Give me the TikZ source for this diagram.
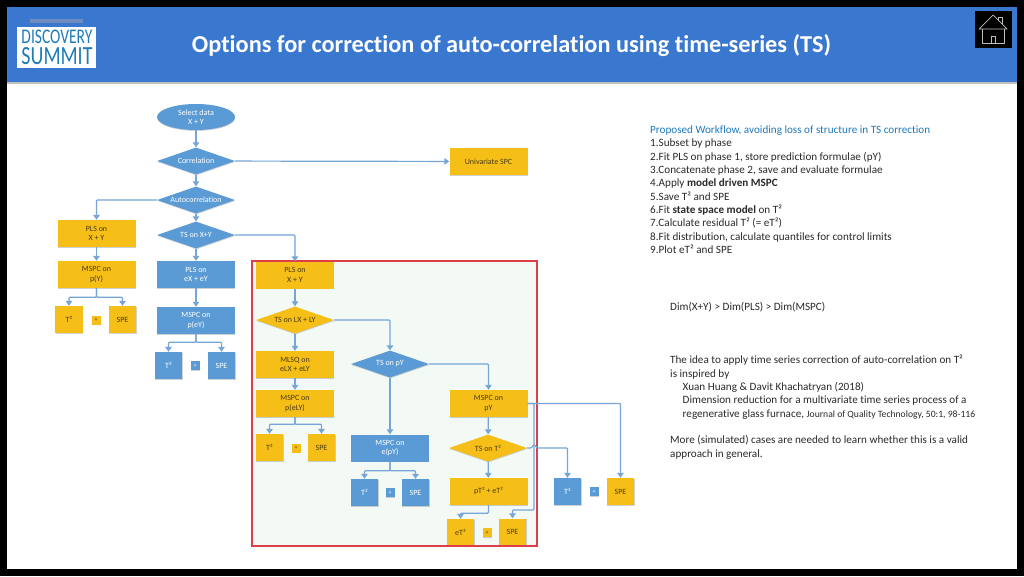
\documentclass[tikz,border=0pt]{standalone}
\usepackage{fontspec}
\setmainfont{Carlito}[Ligatures=NoCommon]
\usetikzlibrary{shapes.geometric,arrows.meta,shadows}
\definecolor{hdr}{HTML}{3A78CF}
\definecolor{bl}{HTML}{5B9BD5}
\definecolor{gd}{HTML}{F6BF17}
\definecolor{ln}{HTML}{76A5D6}
\definecolor{lk}{HTML}{1F78BE}
\definecolor{tx}{HTML}{2A2A2A}
\definecolor{gtx}{HTML}{4A3A10}
\definecolor{lg}{HTML}{1F7CBB}
\definecolor{pale}{HTML}{F3FAF6}
\definecolor{frm}{HTML}{DC3F48}
\definecolor{smudge}{HTML}{6E8DBE}
\tikzset{
 x=1pt,y=-1pt,
 lab/.style={font=\fontsize{8}{9.4}\selectfont,align=center,inner sep=0pt},
 box/.style={lab,rectangle,minimum width=78pt,minimum height=27pt},
 sq/.style={lab,rectangle,minimum width=27.5pt,minimum height=27pt},
 dot/.style={lab,rectangle,minimum width=9pt,minimum height=9pt,font=\fontsize{6}{6}\selectfont},
 dia/.style={lab,diamond,aspect=2.9,minimum width=78pt,minimum height=27pt},
 sh/.style={drop shadow={shadow xshift=0.4pt,shadow yshift=-0.9pt,opacity=.18,fill=black}},
 G/.style={fill=gd,text=gtx,sh},
 B/.style={fill=bl,text=white,sh},
 con/.style={draw=ln,line width=1.2pt,rounded corners=1pt},
 arr/.style={con,-{Triangle[length=5pt,width=6.5pt]}},
 side/.style={font=\fontsize{11.15}{13.35}\selectfont,align=left,inner sep=0pt,anchor=north west,text=tx},
 hm/.style={white!75!black,line width=.7pt,line join=round},
}
\begin{document}
\begin{tikzpicture}
\useasboundingbox (0,0) rectangle (1024,576);
\fill[black] (0,0) rectangle (1024,576);
\fill[white] (7,83) rectangle (1017,569);
\fill[hdr] (7,7) rectangle (1017,82);
\fill[black!25] (7,82) rectangle (1017,84);
% logo
\fill[white] (17,27) rectangle (96,68);
\fill[smudge] (30,18.5) rectangle (83,22.5);
\node[inner sep=0pt,text=lg] (logo) at (57,47.3) {\vbox{\hbox{\resizebox{71pt}{13.5pt}{DISCOVERY}}\kern3.5pt\hbox{\resizebox{71pt}{17pt}{SUMMIT}}}};
% title
\node[inner sep=0pt,text=white,font=\fontsize{24.3}{26}\selectfont\bfseries] (title) at (511.5,45.5) {Options for correction of auto-correlation using time-series (TS)};
% home
\fill[black] (975,10.5) rectangle (1012,47.5);
\draw[hm] (979,29) -- (993,15) -- (1007,29) -- cycle;
\draw[hm] (982,29) -- (982,43) -- (1004,43) -- (1004,29);
\draw[hm] (991,43) -- (991,36) -- (995,36) -- (995,43);
\draw[hm] (998,20) -- (998,17) -- (1002,17) -- (1002,24);
% pale area of the frame
\fill[pale] (252,261) rectangle (537,546);
% nodes
\node[lab,ellipse,B,minimum width=78pt,minimum height=26pt] (sel) at (196,117) {Select data\\X + Y};
\node[dia,B] (cor) at (196,161) {Correlation};
\node[dia,B] (aut) at (196,200) {Autocorrelation};
\node[dia,B] (tsxy) at (196,235) {TS on X+Y};
\node[box,G] (uni) at (488.5,161.5) {Univariate SPC};
% left column
\node[box,G] (pls1) at (96.5,233.5) {PLS on\\X + Y};
\node[box,G] (ms1) at (96.5,274.5) {MSPC on\\p(Y)};
\node[sq,G] (t1) at (69,319.5) {T²};
\node[dot,G] (d1) at (96,320) {+};
\node[sq,G] (s1) at (122.5,319.5) {SPE};
% second column
\node[box,B] (pls2) at (196,274.5) {PLS on\\eX + eY};
\node[box,B] (ms2) at (196,320.5) {MSPC on\\p(eY)};
\node[sq,B] (t2) at (168.5,365.5) {T²};
\node[dot,B] (d2) at (195,365.5) {+};
\node[sq,B] (s2) at (221.5,365.5) {SPE};
% third column
\node[box,G] (pls3) at (295,275) {PLS on\\X + Y};
\node[dia,G] (tsl) at (295,320) {TS on LX + LY};
\node[box,G] (mlsq) at (295,364.5) {MLSQ on\\eLX + eLY};
\node[box,G] (ms3) at (295,403.5) {MSPC on\\p(eLY)};
\node[sq,G] (t3) at (269.5,447.5) {T²};
\node[dot,G] (d3) at (296,448) {+};
\node[sq,G] (s3) at (321.5,447.5) {SPE};
% fourth column
\node[dia,B] (tsp) at (390,364) {TS on pY};
\node[box,B] (ms4) at (390,448) {MSPC on\\e(pY)};
\node[sq,B] (t4) at (364.5,492.5) {T²};
\node[dot,B] (d4) at (390,492.5) {+};
\node[sq,B] (s4) at (415.5,492.5) {SPE};
% fifth column
\node[box,G] (ms5) at (488.5,403.5) {MSPC on\\pY};
\node[dia,G] (tst) at (488,448) {TS on T²};
\node[box,G] (pt) at (488.5,491.5) {pT² + eT²};
\node[sq,G] (t5) at (460.5,532.5) {eT²};
\node[dot,G] (d5) at (487,532.5) {+};
\node[sq,G] (s5) at (512.5,532) {SPE};
% outside
\node[sq,B] (t6) at (567.5,491.5) {T²};
\node[dot,B] (d6) at (594,491.5) {+};
\node[sq,G] (s6) at (620.5,491.5) {SPE};
% red frame on top
\draw[draw=frm,line width=1.5pt] (252,261) rectangle (537,546);
% connectors
\draw[arr] (sel) -- (cor);
\draw[arr] (cor) -- (uni);
\draw[arr] (cor) -- (aut);
\draw[arr] (aut) -- (tsxy);
\draw[arr] (aut.west) -| (pls1.north);
\draw[arr] (tsxy) -- (pls2);
\draw[arr] (tsxy.east) -| (pls3.north);
\draw[arr] (pls1) -- (ms1);
\draw[arr] (ms1.south) -- ++(0,9) -| (t1.north);
\draw[arr] (ms1.south) -- ++(0,9) -| (s1.north);
\draw[arr] (pls2) -- (ms2);
\draw[arr] (ms2.south) -- ++(0,8) -| (t2.north);
\draw[arr] (ms2.south) -- ++(0,8) -| (s2.north);
\draw[arr] (pls3) -- (tsl);
\draw[arr] (tsl) -- (mlsq);
\draw[arr] (mlsq) -- (ms3);
\draw[arr] (ms3.south) -- ++(0,7) -| (t3.north);
\draw[arr] (ms3.south) -- ++(0,7) -| (s3.north);
\draw[arr] (tsl.east) -| (tsp.north);
\draw[arr] (tsp) -- (ms4);
\draw[arr] (ms4.south) -- ++(0,9) -| (t4.north);
\draw[arr] (ms4.south) -- ++(0,9) -| (s4.north);
\draw[arr] (tsp.east) -| (ms5.north);
\draw[arr] (ms5) -- (tst);
\draw[arr] (tst) -- (pt);
\draw[arr] (pt.south) -- ++(0,8) -| (t5.north);
\coordinate (busr) at (534,510);
\draw[arr] (ms5.east) -- (534,403.5) -- (busr) -| (s5.north);
\draw[arr] (ms5.east) -| (s6.north);
\coordinate (hopa) at (531.5,448);
\coordinate (hopb) at (537,448);
\draw[con] (tst.east) -- (hopa) .. controls (533,444.5) and (535.5,444.5) .. (hopb);
\draw[arr] (hopb) -| (t6.north);
% side text
\node[side] (wf) at (650,125.5) {\textcolor{lk}{Proposed Workflow, avoiding loss of structure in TS correction}\\
1.Subset by phase\\
2.Fit PLS on phase 1, store prediction formulae (pY)\\
3.Concatenate phase 2, save and evaluate formulae\\
4.Apply \textbf{model driven MSPC}\\
5.Save T² and SPE\\
6.Fit \textbf{state space model} on T²\\
7.Calculate residual T² (= eT²)\\
8.Fit distribution, calculate quantiles for control limits\\
9.Plot eT² and SPE};
\node[side] (dim) at (670,302.5) {Dim(X+Y) > Dim(PLS) > Dim(MSPC)};
\node[side] (idea) at (670,355) {The idea to apply time series correction of auto-correlation on T²\\
is inspired by\\
\hspace*{12.5pt}Xuan Huang \& Davit Khachatryan (2018)\\
\hspace*{12.5pt}Dimension reduction for a multivariate time series process of a\\
\hspace*{12.5pt}regenerative glass furnace, {\fontsize{9.65}{13.35}\selectfont Journal of Quality Technology, 50:1, 98-116}\\[13.35pt]
More (simulated) cases are needed to learn whether this is a valid\\
approach in general.};
\end{tikzpicture}
\end{document}
